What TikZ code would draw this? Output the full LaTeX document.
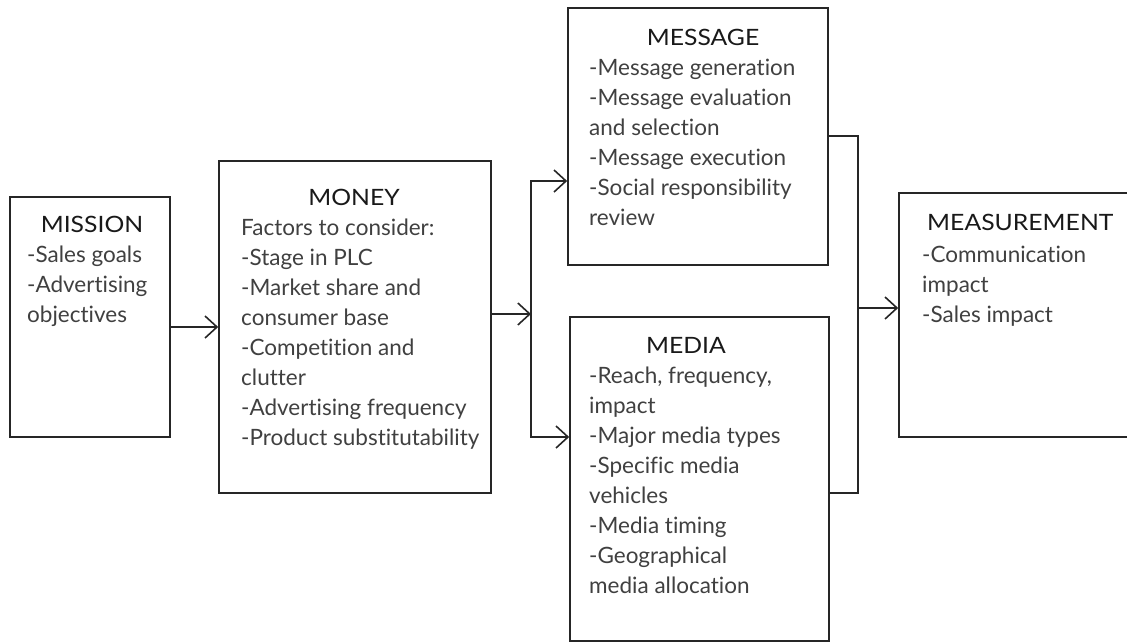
\documentclass[tikz,border=0pt]{standalone}
\usepackage{fontspec}
\setmainfont{Lato}[Ligatures=NoCommon]
\usetikzlibrary{arrows.meta}
\newcommand{\lines}[1]{\begin{tabular}[t]{@{}l@{}}#1\end{tabular}}
\newcommand{\hd}[1]{\scalebox{1.1}[1]{#1}}
\begin{document}
\begin{tikzpicture}[x=1pt,y=-1pt,
  box/.style={draw=black!85, line width=1.6pt, inner sep=0pt},
  head/.style={anchor=base, inner sep=0pt, font=\fontsize{22.5}{30}\selectfont, text=black!90},
  headw/.style={head, anchor=base west},
  body/.style={anchor=base west, inner sep=0pt, font=\fontsize{22.5}{30}\selectfont, text=black!75},
  conn/.style={line width=1.6pt, draw=black!85},
  tip/.style={-{Straight Barb[length=12pt,width=22pt]}},
  tips/.style={{Straight Barb[length=12pt,width=22pt]}-{Straight Barb[length=12pt,width=22pt]}}
]
\useasboundingbox (0,0) rectangle (1127,643);

% boxes
\node[box, minimum width=160, minimum height=240] (mission) at (90,317) {};
\node[box, minimum width=272, minimum height=332] (money) at (355,327) {};
\node[box, minimum width=260, minimum height=257] (message) at (698,136.5) {};
\node[box, minimum width=259, minimum height=324] (media) at (699.5,479) {};
\node[box, minimum width=251, minimum height=244] (meas) at (1024.5,315) {};

% texts
\node[head] (missionh) at (92,232) {\hd{MISSION}};
\node[body] (missionb) at (27,262) {\lines{-Sales goals\\-Advertising\\objectives}};

\node[head] (moneyh) at (354,205) {\hd{MONEY}};
\node[body] (moneyb) at (241,235) {\lines{Factors to consider:\\-Stage in PLC\\-Market share and\\consumer base\\-Competition and\\clutter\\-Advertising frequency\\-Product substitutability}};

\node[head] (messageh) at (703,45) {\hd{MESSAGE}};
\node[body] (messageb) at (589,75) {\lines{-Message generation\\-Message evaluation\\and selection\\-Message execution\\-Social responsibility\\review}};

\node[head] (mediah) at (686,353) {\hd{MEDIA}};
\node[body] (mediab) at (589,383) {\lines{-Reach, frequency,\\impact\\-Major media types\\-Specific media\\vehicles\\-Media timing\\-Geographical\\media allocation}};

\node[headw] (meash) at (927,230) {\hd{MEASUREMENT}};
\node[body] (measb) at (922,262) {\lines{-Communication\\impact\\-Sales impact}};

% junction points
\coordinate (jt) at (531,181);
\coordinate (jb) at (531,437);
\coordinate (jm) at (531,314);
\coordinate (rt) at (858,136);
\coordinate (rb) at (858,493);
\coordinate (rm) at (858,308);

% connectors
\draw[conn,tip] (mission.east |- money.west) -- (money.west);
\draw[conn,tip] (money.east |- jm) -- (jm);
\draw[conn,tips] (message.west |- jt) -- (jt) -- (jb) -- (media.west |- jb);
\draw[conn] (message.east |- rt) -- (rt) -- (rb) -- (media.east |- rb);
\draw[conn,tip] (rm) -- (meas.west |- rm);
\end{tikzpicture}
\end{document}
